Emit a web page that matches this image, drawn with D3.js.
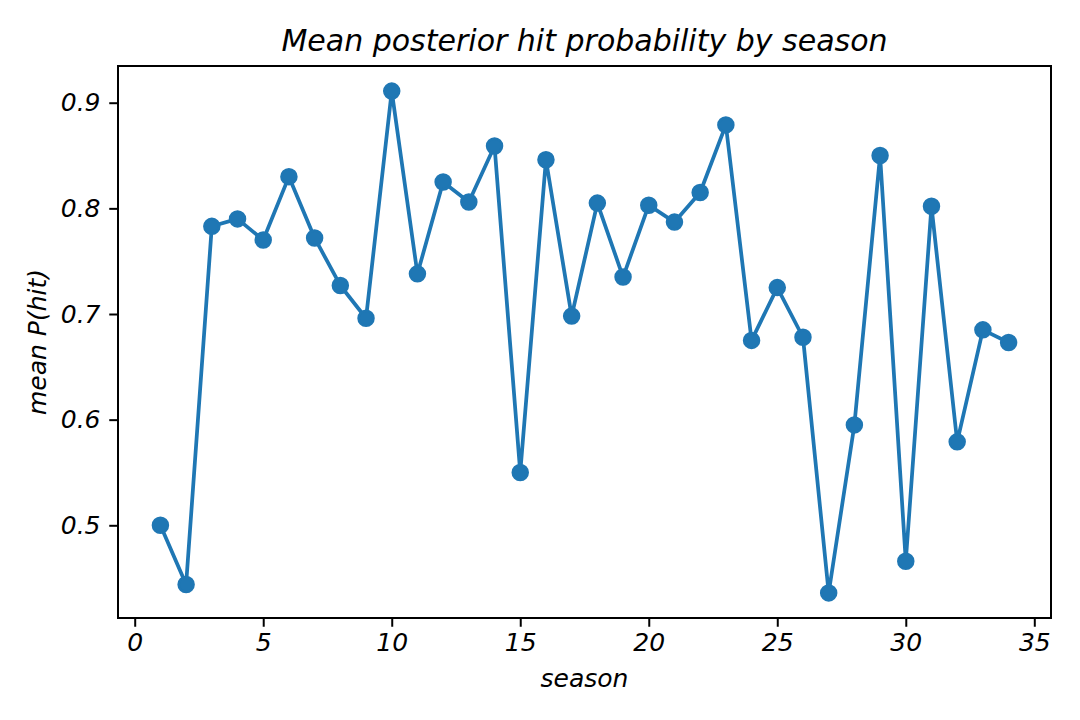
<!DOCTYPE html>
<meta charset="utf-8">
<style>
body { margin: 0; background: #fff; }
text { font-family: "DejaVu Sans", sans-serif; font-style: italic; fill: #000; }
</style>
<svg width="1080" height="720"></svg>
<script src="https://d3js.org/d3.v7.min.js"></script>
<script>

var seasons = d3.range(1, 35);
var meanHit = [0.500, 0.444, 0.783, 0.790, 0.770, 0.830, 0.772, 0.727, 0.696, 0.911,
               0.738, 0.825, 0.806, 0.859, 0.550, 0.846, 0.698, 0.805, 0.735, 0.803,
               0.787, 0.815, 0.879, 0.675, 0.725, 0.678, 0.436, 0.595, 0.850, 0.466,
               0.802, 0.579, 0.685, 0.673];
var xTicks = [0, 5, 10, 15, 20, 25, 30, 35];
var yTicks = [0.5, 0.6, 0.7, 0.8, 0.9];

var svg = d3.select("svg"),
    plotL = 118, plotR = 1051, plotT = 66, plotB = 618;

var data = seasons.map(function(s, i) { return {s: s, v: meanHit[i]}; });

// matplotlib style 5% margins
var xr = d3.extent(seasons), yr = d3.extent(meanHit);
var xpad = (xr[1] - xr[0]) * 0.05, ypad = (yr[1] - yr[0]) * 0.05;

var x = d3.scaleLinear()
  .domain([xr[0] - xpad, xr[1] + xpad])
  .range([plotL, plotR]);

var y = d3.scaleLinear()
  .domain([yr[0] - ypad, yr[1] + ypad])
  .range([plotB, plotT]);

var line = d3.line()
  .x(function(d) { return x(d.s); })
  .y(function(d) { return y(d.v); });

svg.append("path")
  .datum(data)
  .attr("fill", "none")
  .attr("stroke", "#1f77b4")
  .attr("stroke-width", 3.75)
  .attr("stroke-linejoin", "round")
  .attr("d", line);

svg.selectAll("circle")
  .data(data)
  .enter().append("circle")
    .attr("cx", function(d) { return x(d.s); })
    .attr("cy", function(d) { return y(d.v); })
    .attr("r", 7.5)
    .attr("fill", "#1f77b4")
    .attr("stroke", "#1f77b4")
    .attr("stroke-width", 2.5);

// axes
var gx = svg.append("g")
  .attr("transform", "translate(0," + plotB + ")")
  .call(d3.axisBottom(x).tickValues(xTicks).tickSize(8.75).tickPadding(6).tickFormat(d3.format("d")));

var gy = svg.append("g")
  .attr("transform", "translate(" + plotL + ",0)")
  .call(d3.axisLeft(y).tickValues(yTicks).tickSize(8.75).tickPadding(8.75).tickFormat(d3.format(".1f")));

[gx, gy].forEach(function(g) {
  g.select(".domain").remove();
  g.selectAll(".tick line").attr("stroke", "#000").attr("stroke-width", 2);
  g.selectAll(".tick text")
    .attr("font-family", "DejaVu Sans")
    .attr("font-size", 25)
    .attr("font-style", "italic")
    .attr("fill", "#000");
});

svg.append("rect")
  .attr("x", plotL)
  .attr("y", plotT)
  .attr("width", plotR - plotL)
  .attr("height", plotB - plotT)
  .attr("fill", "none")
  .attr("stroke", "#000")
  .attr("stroke-width", 2);

svg.append("text")
  .attr("x", (plotL + plotR) / 2)
  .attr("y", 51)
  .attr("text-anchor", "middle")
  .attr("font-size", 30)
  .text("Mean posterior hit probability by season");

svg.append("text")
  .attr("x", (plotL + plotR) / 2)
  .attr("y", 687)
  .attr("text-anchor", "middle")
  .attr("font-size", 25)
  .text("season");

svg.append("text")
  .attr("transform", "translate(46," + ((plotT + plotB) / 2) + ") rotate(-90)")
  .attr("text-anchor", "middle")
  .attr("font-size", 25)
  .text("mean P(hit)");

</script>
